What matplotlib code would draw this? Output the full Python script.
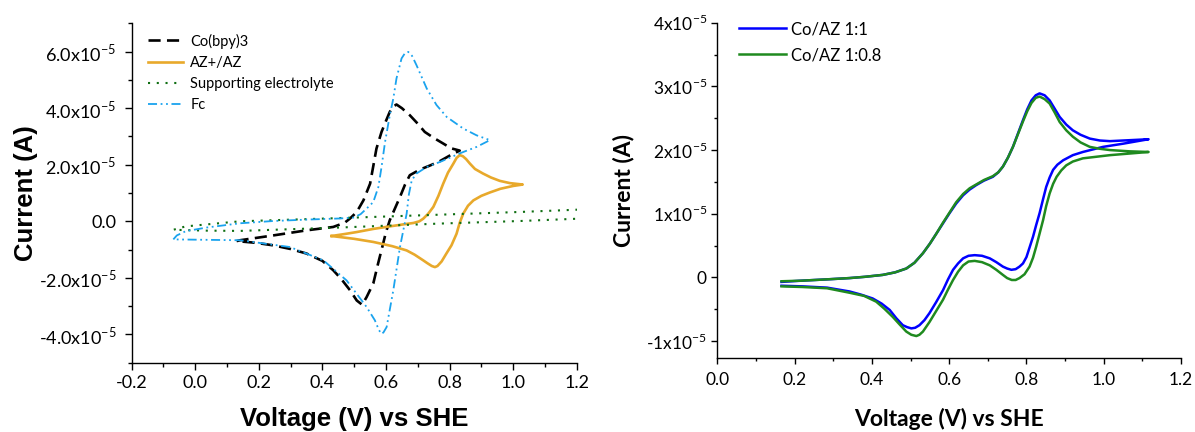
import numpy as np
import matplotlib
matplotlib.use('Agg')
from matplotlib import pyplot as plt
from matplotlib.ticker import MultipleLocator, FuncFormatter

# currents are in units of 1e-5 A, potentials in V vs SHE

# --- left panel: individual redox couples ---
co_v = [0.130, 0.141, 0.245, 0.350, 0.434, 0.470, 0.487, 0.508, 0.529, 0.550, 0.570,
        0.586, 0.600, 0.612, 0.622, 0.633, 0.650, 0.675, 0.700, 0.722, 0.750, 0.780,
        0.805, 0.832,
        0.800, 0.770, 0.740, 0.707, 0.675, 0.660, 0.644, 0.628, 0.612, 0.600, 0.591,
        0.575, 0.560, 0.549, 0.539, 0.525, 0.508, 0.487, 0.460, 0.434, 0.400, 0.350,
        0.300, 0.245, 0.190, 0.130]
co_i = [-0.70, -0.67, -0.50, -0.32, -0.20, -0.05, 0.10, 0.33, 0.74, 1.33, 2.57,
        3.16, 3.55, 3.87, 4.05, 4.13, 4.00, 3.75, 3.45, 3.16, 2.95, 2.75,
        2.58, 2.50,
        2.32, 2.13, 1.98, 1.83, 1.63, 1.30, 0.86, 0.45, 0.04, -0.38, -0.79,
        -1.50, -2.20, -2.45, -2.68, -2.95, -2.80, -2.44, -2.05, -1.73, -1.40, -1.14,
        -0.98, -0.85, -0.76, -0.70]

az_v = [0.429, 0.470, 0.508, 0.560, 0.612, 0.660, 0.686, 0.705, 0.717, 0.733, 0.749,
        0.765, 0.780, 0.795, 0.812, 0.822, 0.832, 0.842, 0.852, 0.864, 0.880, 0.905,
        0.930, 0.958, 0.990, 1.030,
        1.000, 0.960, 0.927, 0.900, 0.875, 0.858, 0.843, 0.832, 0.822, 0.806, 0.790,
        0.775, 0.762, 0.754, 0.744, 0.730, 0.717, 0.690, 0.665, 0.620, 0.560, 0.500,
        0.429]
az_i = [-0.52, -0.45, -0.38, -0.27, -0.18, -0.10, -0.06, 0.00, 0.09, 0.27, 0.51,
        0.90, 1.33, 1.72, 2.04, 2.24, 2.34, 2.30, 2.20, 2.04, 1.85, 1.69,
        1.55, 1.43, 1.35, 1.30,
        1.25, 1.15, 1.02, 0.90, 0.74, 0.55, 0.27, -0.05, -0.44, -0.85, -1.14,
        -1.42, -1.58, -1.62, -1.58, -1.48, -1.38, -1.18, -1.03, -0.88, -0.73, -0.62,
        -0.52]

se_v = [1.250, 1.200, 1.021, 0.770, 0.455, 0.141, 0.036, -0.069,
        -0.030, 0.036, 0.141, 0.497, 1.021, 1.200, 1.250]
se_i = [0.11, 0.09, 0.01, -0.08, -0.22, -0.34, -0.33, -0.30,
        -0.18, -0.11, 0.00, 0.13, 0.33, 0.41, 0.43]

fc_v = [-0.069, -0.058, -0.030, 0.036, 0.141, 0.245, 0.350, 0.455, 0.497, 0.520,
        0.539, 0.560, 0.576, 0.586, 0.597, 0.612, 0.623, 0.633, 0.649, 0.660, 0.670,
        0.682, 0.696, 0.728, 0.759, 0.791, 0.843, 0.885, 0.927,
        0.885, 0.843, 0.832, 0.770, 0.728, 0.696, 0.681, 0.672, 0.665, 0.644, 0.623,
        0.602, 0.592, 0.586, 0.578, 0.565, 0.539, 0.476, 0.403, 0.298, 0.141, -0.069]
fc_i = [-0.64, -0.50, -0.35, -0.22, -0.07, 0.01, 0.06, 0.10, 0.13, 0.25,
        0.45, 0.68, 1.21, 1.92, 2.80, 3.75, 4.34, 5.05, 5.76, 5.95, 5.99,
        5.85, 5.52, 4.70, 4.11, 3.69, 3.28, 3.04, 2.87,
        2.63, 2.45, 2.40, 2.10, 1.92, 1.69, 1.45, 0.95, 0.27, -0.91, -2.44,
        -3.74, -3.93, -3.98, -3.85, -3.50, -3.03, -2.09, -1.38, -0.91, -0.67, -0.64]

# --- right panel: Co/AZ mixtures ---
m11_v = [0.166, 0.220, 0.284, 0.342, 0.382, 0.428, 0.460, 0.489, 0.510, 0.532, 0.550,
         0.567, 0.584, 0.601, 0.618, 0.636, 0.653, 0.670, 0.690, 0.713, 0.727, 0.739,
         0.752, 0.765, 0.778, 0.791, 0.802, 0.813, 0.824, 0.834, 0.847, 0.860, 0.873,
         0.886, 0.903, 0.920, 0.940, 0.964, 0.990, 1.016, 1.067, 1.116,
         1.050, 0.998, 0.946, 0.920, 0.895, 0.880, 0.869, 0.860, 0.851, 0.843, 0.834,
         0.825, 0.817, 0.808, 0.800, 0.791, 0.782, 0.772, 0.761, 0.750, 0.739, 0.722,
         0.705, 0.685, 0.666, 0.650, 0.636, 0.623, 0.610, 0.597, 0.584, 0.566, 0.549,
         0.536, 0.523, 0.512, 0.502, 0.491, 0.480, 0.463, 0.446, 0.425, 0.402, 0.372,
         0.342, 0.284, 0.220, 0.166]
m11_i = [-0.07, -0.05, -0.03, -0.01, 0.01, 0.04, 0.08, 0.14, 0.23, 0.38, 0.53,
         0.69, 0.85, 1.01, 1.16, 1.29, 1.38, 1.45, 1.52, 1.58, 1.65, 1.74,
         1.88, 2.05, 2.26, 2.47, 2.64, 2.78, 2.86, 2.89, 2.86, 2.78, 2.65,
         2.52, 2.40, 2.31, 2.24, 2.18, 2.15, 2.14, 2.155, 2.17,
         2.10, 2.05, 1.97, 1.92, 1.84, 1.77, 1.69, 1.57, 1.42, 1.23, 1.01,
         0.82, 0.64, 0.47, 0.32, 0.22, 0.17, 0.13, 0.12, 0.14, 0.17, 0.24,
         0.30, 0.34, 0.35, 0.34, 0.30, 0.22, 0.12, -0.03, -0.20, -0.39, -0.56,
         -0.67, -0.75, -0.79, -0.80, -0.78, -0.75, -0.64, -0.51, -0.41, -0.33, -0.27,
         -0.22, -0.16, -0.14, -0.13]

m108_v = [0.166, 0.220, 0.284, 0.342, 0.382, 0.428, 0.460, 0.489, 0.510, 0.532, 0.550,
          0.567, 0.584, 0.601, 0.618, 0.636, 0.653, 0.670, 0.690, 0.713, 0.727, 0.739,
          0.752, 0.765, 0.778, 0.791, 0.802, 0.813, 0.824, 0.834, 0.847, 0.860, 0.873,
          0.886, 0.903, 0.920, 0.940, 0.964, 0.990, 1.016, 1.067, 1.116,
          1.016, 0.946, 0.920, 0.903, 0.890, 0.878, 0.869, 0.860, 0.851, 0.843, 0.834,
          0.825, 0.817, 0.808, 0.795, 0.782, 0.772, 0.762, 0.750, 0.739, 0.722, 0.705,
          0.685, 0.666, 0.650, 0.636, 0.623, 0.610, 0.597, 0.584, 0.566, 0.549, 0.532,
          0.523, 0.515, 0.502, 0.489, 0.472, 0.454, 0.432, 0.411, 0.380, 0.342, 0.284,
          0.220, 0.166]
m108_i = [-0.06, -0.05, -0.03, -0.01, 0.01, 0.04, 0.08, 0.14, 0.23, 0.38, 0.53,
          0.69, 0.86, 1.02, 1.18, 1.31, 1.40, 1.46, 1.53, 1.59, 1.65, 1.74,
          1.88, 2.05, 2.25, 2.45, 2.61, 2.74, 2.82, 2.84, 2.80, 2.73, 2.59,
          2.44, 2.31, 2.21, 2.12, 2.05, 2.02, 2.00, 1.98, 1.97,
          1.92, 1.87, 1.82, 1.76, 1.68, 1.58, 1.47, 1.32, 1.12, 0.90, 0.69,
          0.48, 0.31, 0.17, 0.05, -0.01, -0.04, -0.04, -0.01, 0.04, 0.12, 0.19,
          0.24, 0.26, 0.25, 0.19, 0.09, -0.04, -0.19, -0.35, -0.53, -0.70, -0.85,
          -0.90, -0.92, -0.90, -0.85, -0.74, -0.62, -0.49, -0.38, -0.29, -0.24, -0.17,
          -0.15, -0.14]

plt.rcParams['font.family'] = 'Lato'
plt.rcParams['mathtext.fontset'] = 'custom'
plt.rcParams['mathtext.rm'] = 'Lato'
plt.rcParams['axes.linewidth'] = 1.0


def fmt_left(v, pos):
    if abs(v) < 1e-9:
        return '0.0'
    return '%.1fx10$^{\\mathregular{-5}}$' % v


def fmt_right(v, pos):
    if abs(v) < 1e-9:
        return '0'
    return '%dx10$^{\\mathregular{-5}}$' % round(v)


def style_axes(ax, major_len, minor_len):
    for s in ('top', 'right'):
        ax.spines[s].set_visible(False)
    ax.tick_params(which='major', direction='out', length=major_len, width=1.0)
    ax.tick_params(which='minor', direction='out', length=minor_len, width=1.0)


fig = plt.figure(figsize=(11.95, 4.32), dpi=100)

# left panel
ax1 = fig.add_axes([0.1102, 0.1604, 0.3724, 0.7856])
ax1.plot(co_v, co_i, color='black', lw=1.9, ls=(0, (4.6, 2.4)), label='Co(bpy)3')
ax1.plot(az_v, az_i, color='#e8a92b', lw=1.9, label='AZ+/AZ')
ax1.plot(se_v, se_i, color='#0f6e12', lw=1.5, ls=(0, (1, 3.2)),
         label='Supporting electrolyte')
ax1.plot(fc_v, fc_i, color='#1aa3ee', lw=1.3, ls=(0, (5, 2, 1, 2, 1, 2)), label='Fc')
ax1.set_xlim(-0.2, 1.2)
ax1.set_ylim(-5, 7)
ax1.xaxis.set_major_locator(MultipleLocator(0.2))
ax1.xaxis.set_minor_locator(MultipleLocator(0.1))
ax1.yaxis.set_major_locator(MultipleLocator(2))
ax1.yaxis.set_minor_locator(MultipleLocator(1))
ax1.xaxis.set_major_formatter(FuncFormatter(lambda v, p: '%.1f' % v))
ax1.yaxis.set_major_formatter(FuncFormatter(fmt_left))
style_axes(ax1, 5, 3)
ax1.tick_params(axis='both', which='major', labelsize=13)
ax1.tick_params(axis='x', which='major', pad=4)
ax1.tick_params(axis='y', which='major', pad=6)
ax1.set_xlabel('Voltage (V) vs SHE', fontsize=18.5, fontweight='bold',
               family='Liberation Sans')
ax1.set_ylabel('Current (A)', fontsize=18.5, fontweight='bold', family='Liberation Sans')
ax1.xaxis.set_label_coords(0.5, -0.13)
ax1.yaxis.set_label_coords(-0.21, 0.5)
ax1.legend(loc='upper left', bbox_to_anchor=(0.037, 0.97), frameon=False, fontsize=10.5,
           handlelength=2.4, handletextpad=0.5, labelspacing=0.5, borderpad=0,
           borderaxespad=0)

# right panel
ax2 = fig.add_axes([0.6003, 0.172, 0.3880, 0.7755])
ax2.plot(m11_v, m11_i, color='#0000ff', lw=1.8, label='Co/AZ 1:1')
ax2.plot(m108_v, m108_i, color='#1f8a1f', lw=1.8, label='Co/AZ 1:0.8')
ax2.set_xlim(0, 1.2)
ax2.set_ylim(-1.26, 4)
ax2.xaxis.set_major_locator(MultipleLocator(0.2))
ax2.xaxis.set_minor_locator(MultipleLocator(0.1))
ax2.yaxis.set_major_locator(MultipleLocator(1))
ax2.yaxis.set_minor_locator(MultipleLocator(0.5))
ax2.xaxis.set_major_formatter(FuncFormatter(lambda v, p: '%.1f' % v))
ax2.yaxis.set_major_formatter(FuncFormatter(fmt_right))
style_axes(ax2, 4, 2.3)
ax2.tick_params(axis='both', which='major', labelsize=12.5)
ax2.tick_params(axis='x', which='major', pad=6)
ax2.tick_params(axis='y', which='major', pad=3.5)
ax2.set_xlabel('Voltage (V) vs SHE', fontsize=16.5, fontweight='bold')
ax2.set_ylabel('Current (A)', fontsize=16.5, fontweight='bold')
ax2.xaxis.set_label_coords(0.5, -0.15)
ax2.yaxis.set_label_coords(-0.18, 0.5)
ax2.legend(loc='upper left', bbox_to_anchor=(0.047, 1.005), frameon=False, fontsize=12,
           handlelength=2.84, handletextpad=0.26, labelspacing=0.6, borderpad=0,
           borderaxespad=0)

fig.savefig('out.png', dpi=100)
